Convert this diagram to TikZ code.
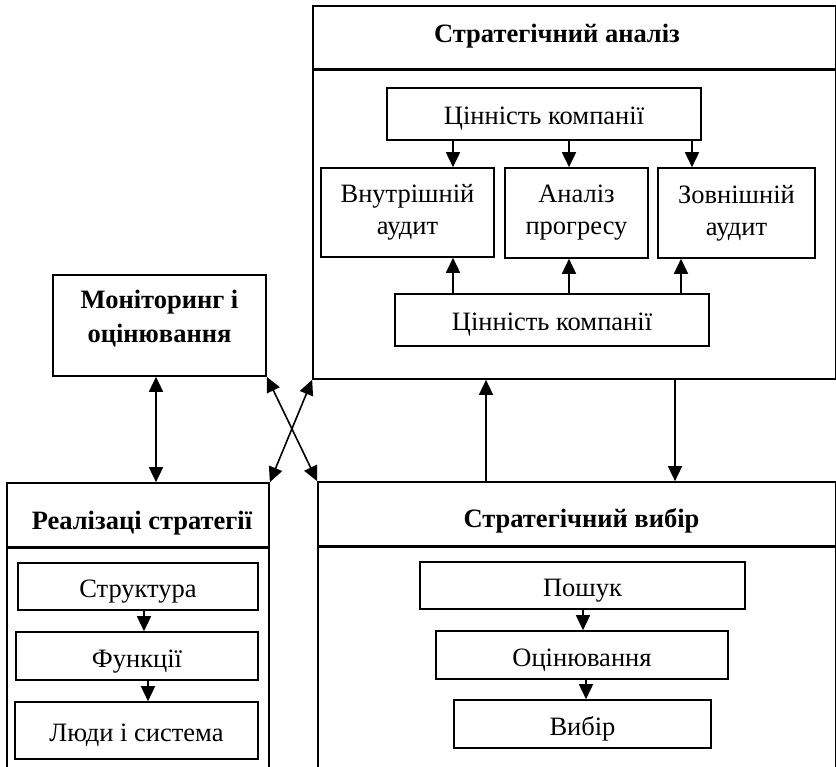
\documentclass[tikz,border=0pt]{standalone}
\usepackage{fontspec}
\setmainfont{Liberation Serif}
\usepackage{tikz}
\usetikzlibrary{arrows.meta, positioning}
\tikzset{
  frame/.style={rectangle, draw=black, line width=1.7pt, inner sep=0pt},
  box/.style={rectangle, draw=black, line width=1.6pt, align=center,
    inner sep=0pt, font=\fontsize{26.5}{32}\selectfont},
  onebox/.style={box, text height=22pt, text depth=0pt},
  title/.style={align=center, inner sep=0pt, font=\fontsize{26.5}{34}\selectfont\bfseries},
  hdrline/.style={line width=3pt},
  arrow/.style={-{Triangle[length=15pt,width=14pt]}, line width=1.6pt},
  dblarrow/.style={{Triangle[length=15pt,width=14pt]}-{Triangle[length=15pt,width=14pt]}, line width=1.6pt}
}

\begin{document}
\begin{tikzpicture}[x=1pt, y=-1pt]
  \useasboundingbox (0,0) rectangle (836,767);
  \clip (0,0) rectangle (836,767);

  % Стратегічний аналіз
  \node[frame, minimum width=523pt, minimum height=373pt] (sa) at (574.5,192.5) {};
  \draw[hdrline] (sa.west |- 0,70) -- (sa.east |- 0,70);
  \node[title] (satitle) at (557,36) {Стратегічний аналіз};
  \node[onebox, minimum width=314pt, minimum height=52pt] (v1) at (544,114) {Цінність компанії};
  \node[box, minimum width=173pt, minimum height=89pt] (ia) at (407.5,212.5) {Внутрішній\\аудит};
  \node[box, minimum width=143pt, minimum height=90pt] (ap) at (576.5,213) {Аналіз\\прогресу};
  \node[box, minimum width=157pt, minimum height=90pt] (ea) at (736.5,213) {Зовнішній\\аудит};
  \node[onebox, minimum width=314pt, minimum height=52pt] (v2) at (552,320) {Цінність компанії};

  \draw[arrow] (v1.south -| 453,0) -- (ia.north -| 453,0);
  \draw[arrow] (v1.south -| 569,0) -- (ap.north -| 569,0);
  \draw[arrow] (v1.south -| 692,0) -- (ea.north -| 692,0);
  \draw[arrow] (v2.north -| 453,0) -- (ia.south -| 453,0);
  \draw[arrow] (v2.north -| 569,0) -- (ap.south -| 569,0);
  \draw[arrow] (v2.north -| 681,0) -- (ea.south -| 681,0);

  % Моніторинг і оцінювання
  \node[frame, minimum width=213pt, minimum height=101pt] (mon) at (159.5,325.5) {};
  \node[title] (montitle) at (159.5,319) {Моніторинг і\\оцінювання};

  % Реалізаці стратегії
  \node[frame, minimum width=262pt, minimum height=340pt] (rs) at (138,653) {};
  \draw[hdrline] (rs.west |- 0,547) -- (rs.east |- 0,547);
  \node[title] (rstitle) at (142,523) {Реалізаці стратегії};
  \node[onebox, minimum width=240pt, minimum height=47pt] (st) at (138,586.5) {Структура};
  \node[onebox, minimum width=242pt, minimum height=48pt] (fn) at (137,656) {Функції};
  \node[onebox, minimum width=243pt, minimum height=57pt] (pp) at (136.5,730.5) {Люди і система};
  \draw[arrow] (st.south -| 144,0) -- (fn.north -| 144,0);
  \draw[arrow] (fn.south -| 148,0) -- (pp.north -| 148,0);

  % Стратегічний вибір
  \node[frame, minimum width=518pt, minimum height=340pt] (sc) at (577,652) {};
  \draw[hdrline] (sc.west |- 0,546) -- (sc.east |- 0,546);
  \node[title] (sctitle) at (581.5,521) {Стратегічний вибір};
  \node[onebox, minimum width=325pt, minimum height=47pt] (se) at (582.5,585.5) {Пошук};
  \node[onebox, minimum width=292pt, minimum height=48pt] (ev) at (582,655) {Оцінювання};
  \node[onebox, minimum width=257pt, minimum height=48pt] (ch) at (582.5,724) {Вибір};
  \draw[arrow] (se.south -| 583,0) -- (ev.north -| 583,0);
  \draw[arrow] (ev.south -| 586,0) -- (ch.north -| 586,0);

  % links between blocks
  \draw[dblarrow] (mon.south -| 156,0) -- (rs.north -| 156,0);
  \draw[dblarrow] (mon.south east) -- (sc.north west);
  \draw[dblarrow] (rs.north east) -- (sa.south west);
  \draw[arrow] (sc.north -| 486,0) -- (sa.south -| 486,0);
  \draw[arrow] (sa.south -| 675,0) -- (sc.north -| 675,0);
\end{tikzpicture}
\end{document}
